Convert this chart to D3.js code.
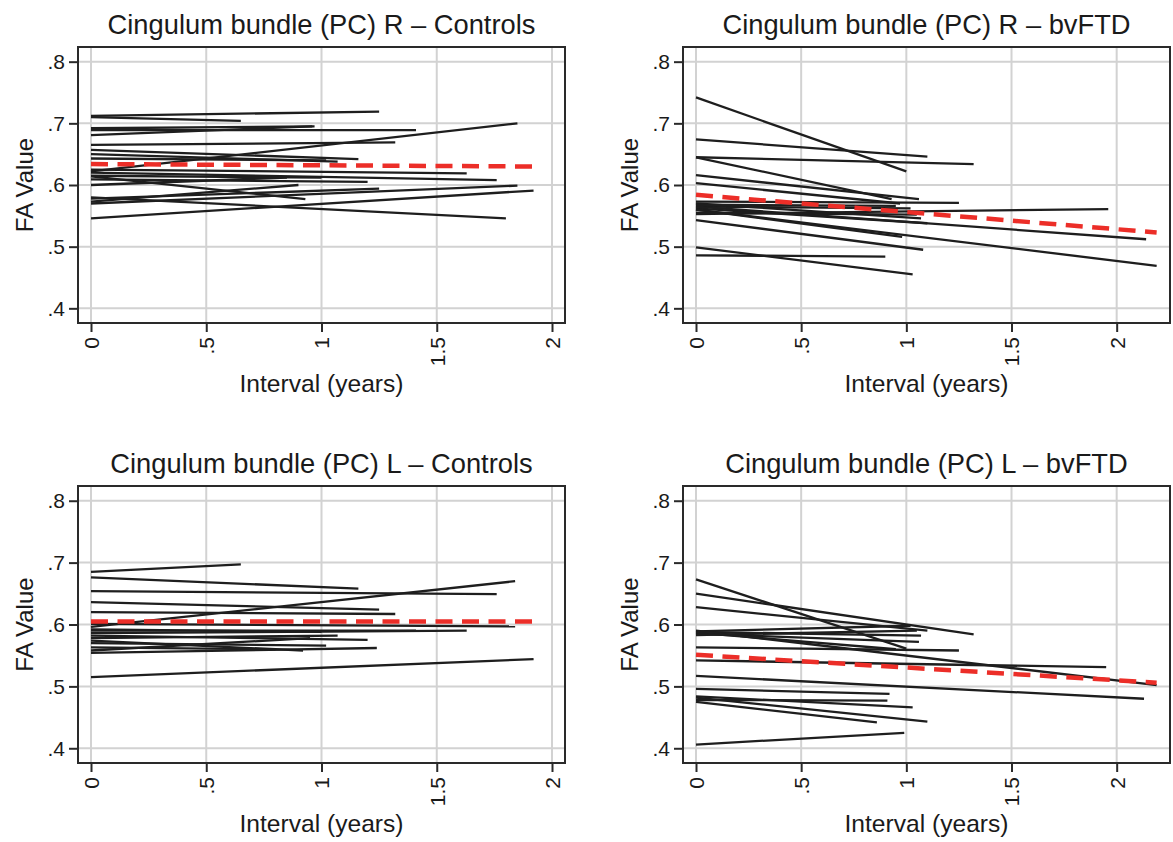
<!DOCTYPE html>
<html><head><meta charset="utf-8">
<script src="https://cdn.jsdelivr.net/npm/d3@7"></script>
<style>
body{margin:0;background:#fff}
text{font-family:"Liberation Sans",Arial,Helvetica,sans-serif;fill:#1a1a1a}
</style>
</head><body>
<svg id="c" width="1173" height="842"></svg>
<script>
// ---- tick values / labels ----
const xTicks = [0, 0.5, 1, 1.5, 2];
const xTickLabels = ["0", ".5", "1", "1.5", "2"];
const yTicks = [0.4, 0.5, 0.6, 0.7, 0.8];
const yTickLabels = [".4", ".5", ".6", ".7", ".8"];
const titles = [
  "Cingulum bundle (PC) R \u2013 Controls",
  "Cingulum bundle (PC) R \u2013 bvFTD",
  "Cingulum bundle (PC) L \u2013 Controls",
  "Cingulum bundle (PC) L \u2013 bvFTD"
];
const xLabel = "Interval (years)";
const yLabel = "FA Value";

// ---- subject trajectories: [FA at baseline (interval 0), interval at follow-up, FA at follow-up] ----
const rControls = [
  [0.712, 1.25, 0.719], [0.710, 0.65, 0.704], [0.692, 0.97, 0.695], [0.689, 1.41, 0.689],
  [0.681, 0.96, 0.695], [0.665, 1.32, 0.669], [0.622, 1.85, 0.700], [0.657, 1.16, 0.642],
  [0.650, 1.07, 0.638], [0.643, 1.02, 0.640], [0.625, 1.63, 0.619], [0.620, 1.76, 0.608],
  [0.609, 1.20, 0.605], [0.578, 1.25, 0.594], [0.570, 1.85, 0.599], [0.546, 1.92, 0.591],
  [0.580, 1.80, 0.546], [0.614, 0.93, 0.577], [0.600, 0.85, 0.612], [0.615, 1.00, 0.612],
  [0.573, 0.90, 0.600]
];
const rBvftd = [
  [0.742, 1.00, 0.622], [0.674, 1.10, 0.646], [0.645, 1.32, 0.634], [0.645, 0.93, 0.577],
  [0.616, 1.06, 0.577], [0.603, 0.97, 0.570], [0.573, 1.25, 0.571], [0.565, 1.02, 0.562],
  [0.570, 1.07, 0.546], [0.562, 1.10, 0.538], [0.565, 2.14, 0.512], [0.560, 2.19, 0.469],
  [0.553, 1.96, 0.561], [0.543, 1.08, 0.495], [0.560, 0.98, 0.516], [0.499, 1.03, 0.455],
  [0.486, 0.90, 0.484], [0.568, 0.95, 0.566], [0.555, 1.05, 0.552]
];
const lControls = [
  [0.685, 0.65, 0.697], [0.676, 1.16, 0.658], [0.654, 1.76, 0.649], [0.596, 1.84, 0.670],
  [0.636, 1.25, 0.624], [0.620, 1.32, 0.617], [0.601, 1.84, 0.597], [0.590, 1.41, 0.590],
  [0.586, 1.63, 0.590], [0.578, 1.07, 0.582], [0.582, 1.20, 0.575], [0.574, 0.92, 0.558],
  [0.570, 1.02, 0.566], [0.554, 1.24, 0.562], [0.563, 0.80, 0.560], [0.558, 0.95, 0.578],
  [0.515, 1.92, 0.544], [0.592, 1.00, 0.588]
];
const lBvftd = [
  [0.673, 1.00, 0.561], [0.650, 1.32, 0.584], [0.628, 1.10, 0.590], [0.589, 1.02, 0.598],
  [0.588, 1.07, 0.582], [0.585, 1.06, 0.572], [0.587, 0.95, 0.560], [0.590, 2.19, 0.502],
  [0.583, 1.05, 0.590], [0.563, 1.25, 0.558], [0.542, 1.95, 0.531], [0.517, 2.13, 0.480],
  [0.496, 0.92, 0.488], [0.484, 1.03, 0.466], [0.482, 1.10, 0.443], [0.475, 0.86, 0.442],
  [0.478, 0.91, 0.477], [0.406, 0.99, 0.425]
];

// ---- group mean fit lines: [interval, FA] ----
const rControlsFit = [[0, 0.634], [1.92, 0.630]];
const rBvftdFit = [[0, 0.584], [2.19, 0.523]];
const lControlsFit = [[0, 0.605], [1.92, 0.605]];
const lBvftdFit = [[0, 0.551], [2.19, 0.506]];

// ---- layout ----
const svg = d3.select("#c");
const panels = [
  {title: titles[0], data: rControls, fit: rControlsFit, l: 78, r: 565, t: 47, b: 323, xd: [-0.0564, 2.0564]},
  {title: titles[1], data: rBvftd, fit: rBvftdFit, l: 683, r: 1170, t: 47, b: 323, xd: [-0.0618, 2.2535]},
  {title: titles[2], data: lControls, fit: lControlsFit, l: 78, r: 565, t: 486, b: 763, xd: [-0.0564, 2.0564]},
  {title: titles[3], data: lBvftd, fit: lBvftdFit, l: 683, r: 1170, t: 486, b: 763, xd: [-0.0618, 2.2535]}
];
const yd = [0.3762, 0.8238];

panels.forEach(p => {
  const x = d3.scaleLinear().domain(p.xd).range([p.l, p.r]);
  const y = d3.scaleLinear().domain(yd).range([p.b, p.t]);
  const g = svg.append("g");

  // gridlines
  g.selectAll(".gx").data(xTicks).join("line")
    .attr("x1", d => x(d)).attr("x2", d => x(d)).attr("y1", p.t).attr("y2", p.b)
    .attr("stroke", "#d2d2d2").attr("stroke-width", 2);
  g.selectAll(".gy").data(yTicks).join("line")
    .attr("y1", d => y(d)).attr("y2", d => y(d)).attr("x1", p.l).attr("x2", p.r)
    .attr("stroke", "#d2d2d2").attr("stroke-width", 2);

  // subject lines
  g.selectAll(".seg").data(p.data).join("line")
    .attr("x1", x(0)).attr("y1", d => y(d[0]))
    .attr("x2", d => x(d[1])).attr("y2", d => y(d[2]))
    .attr("stroke", "#1e1e1e").attr("stroke-width", 2.3);

  // fit line
  g.append("path").datum(p.fit)
    .attr("d", d3.line().x(d => x(d[0])).y(d => y(d[1])))
    .attr("fill", "none").attr("stroke", "#ec2e28").attr("stroke-width", 4.5)
    .attr("stroke-dasharray", "17,9.5");

  // frame
  g.append("rect").attr("x", p.l).attr("y", p.t).attr("width", p.r - p.l).attr("height", p.b - p.t)
    .attr("fill", "none").attr("stroke", "#2a2a2a").attr("stroke-width", 2);

  // y axis
  const ya = g.append("g").attr("transform", `translate(${p.l},0)`)
    .call(d3.axisLeft(y).tickValues(yTicks).tickFormat((d, i) => yTickLabels[i]).tickSize(9).tickPadding(4));
  ya.select(".domain").remove();
  ya.selectAll("line").attr("stroke", "#2a2a2a").attr("stroke-width", 2);
  ya.selectAll("text").attr("font-size", 21).attr("fill", "#1a1a1a")
    .style("font-family", '"Liberation Sans",Arial,sans-serif');

  // x axis
  const xa = g.append("g").attr("transform", `translate(0,${p.b})`)
    .call(d3.axisBottom(x).tickValues(xTicks).tickFormat((d, i) => xTickLabels[i]).tickSize(9).tickPadding(4));
  xa.select(".domain").remove();
  xa.selectAll("line").attr("stroke", "#2a2a2a").attr("stroke-width", 2);
  xa.selectAll("text").attr("font-size", 21).attr("fill", "#1a1a1a")
    .style("font-family", '"Liberation Sans",Arial,sans-serif')
    .attr("transform", "rotate(-90)").attr("text-anchor", "end")
    .attr("x", -14).attr("y", 0).attr("dy", "0.35em");

  // titles
  g.append("text").attr("x", (p.l + p.r) / 2).attr("y", p.t - 13)
    .attr("text-anchor", "middle").attr("font-size", 27.3).text(p.title);
  g.append("text").attr("x", (p.l + p.r) / 2).attr("y", p.b + 69)
    .attr("text-anchor", "middle").attr("font-size", 24.6).text(xLabel);
  g.append("text").attr("transform", `translate(${p.l - 45},${(p.t + p.b) / 2}) rotate(-90)`)
    .attr("text-anchor", "middle").attr("font-size", 24).text(yLabel);
});
</script>
</body></html>
